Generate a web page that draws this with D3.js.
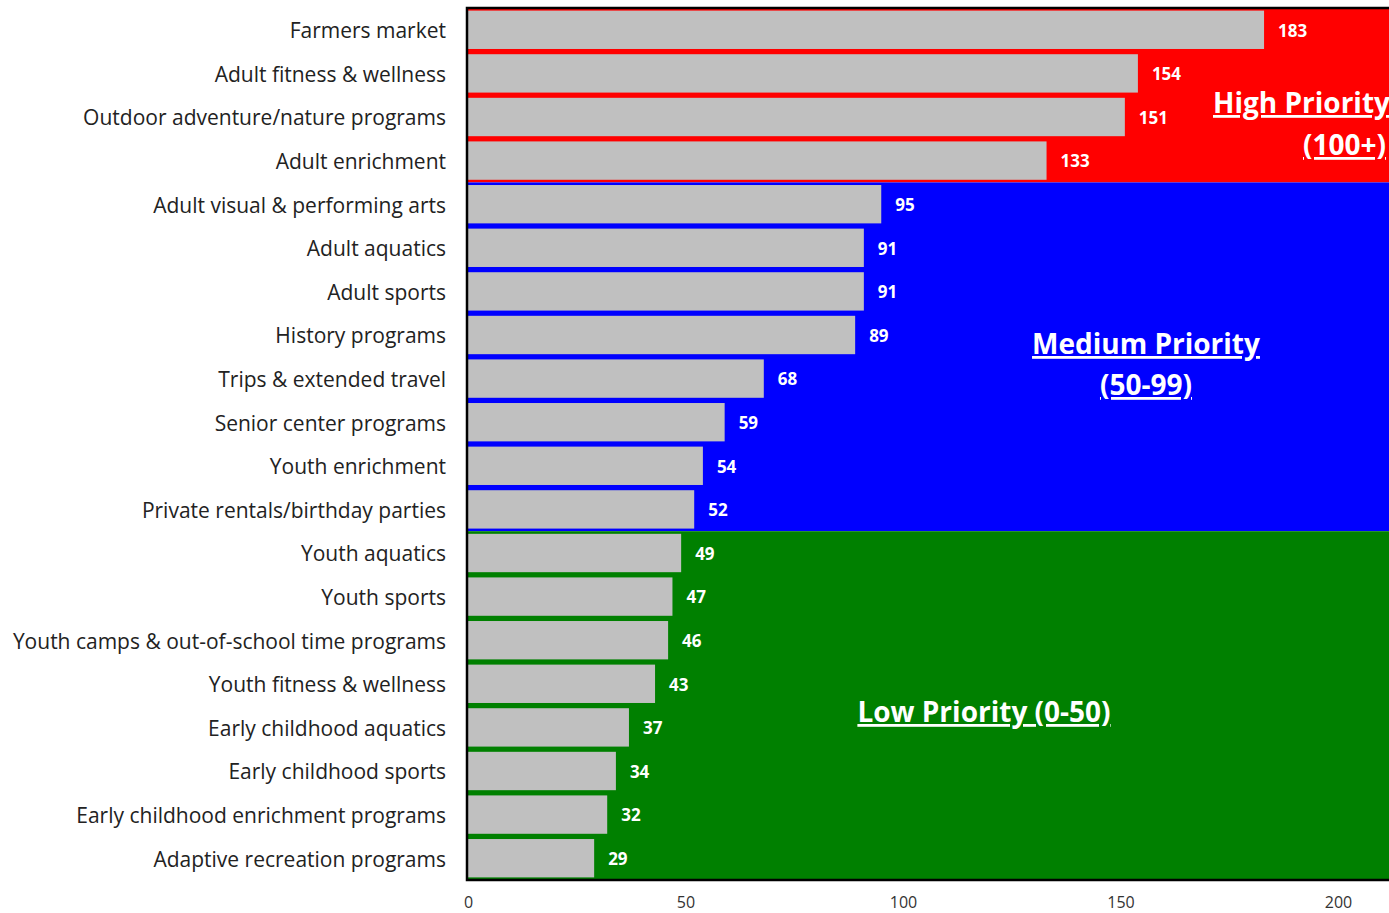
<!DOCTYPE html>
<html><head><meta charset="utf-8">
<script src="https://cdn.jsdelivr.net/npm/d3@7"></script>
<style>body{margin:0;background:#fff;overflow:hidden}svg{display:block}</style>
</head><body>
<script>
const categories = ["Farmers market","Adult fitness & wellness","Outdoor adventure/nature programs","Adult enrichment","Adult visual & performing arts","Adult aquatics","Adult sports","History programs","Trips & extended travel","Senior center programs","Youth enrichment","Private rentals/birthday parties","Youth aquatics","Youth sports","Youth camps & out-of-school time programs","Youth fitness & wellness","Early childhood aquatics","Early childhood sports","Early childhood enrichment programs","Adaptive recreation programs"];
const values = [183,154,151,133,95,91,91,89,68,59,54,52,49,47,46,43,37,34,32,29];
const xTicks = [0,50,100,150,200];
const zones = [
  {name:"High", first:0, last:3, color:"#ff0000"},
  {name:"Medium", first:4, last:11, color:"#0000ff"},
  {name:"Low", first:12, last:19, color:"#008000"}
];
const zoneLabels = [
  {lines:["High Priority","(100+)"], x:[1213,1303], y:[113,155], anchor:"start"},
  {lines:["Medium Priority","(50-99)"], x:[1146,1146], y:[354,395], anchor:"middle"},
  {lines:["Low Priority (0-50)"], x:[984], y:[722], anchor:"middle"}
];

const W=1389,H=913;
const svg=d3.select("body").append("svg").attr("width",W).attr("height",H);
const x=d3.scaleLinear().domain([0,215]).range([468,468+215*4.35]);
const y=d3.scaleBand().domain(categories).range([8,880]).paddingInner(0.12).paddingOuter(0.06);
const step=y.step(), gap=step*0.12;
const font="'Open Sans', sans-serif";

zones.forEach((z,i)=>{
  const y0 = i===0 ? 8 : y(categories[z.first]) - gap/2;
  const y1 = i===zones.length-1 ? 880 : y(categories[z.last]) + y.bandwidth() + gap/2;
  svg.append("rect").attr("x",x(0)).attr("y",y0).attr("width",x.range()[1]-x(0)).attr("height",y1-y0).attr("fill",z.color);
});

svg.selectAll("rect.bar").data(values).join("rect").attr("class","bar")
  .attr("x",x(0)).attr("y",(d,i)=>y(categories[i])).attr("width",d=>x(d)-x(0)).attr("height",y.bandwidth()).attr("fill","#c0c0c0");

svg.selectAll("text.val").data(values).join("text").attr("class","val")
  .attr("x",d=>x(d)+14).attr("y",(d,i)=>y(categories[i])+y.bandwidth()/2).attr("dy","0.4em")
  .attr("fill","#fff").attr("font-weight","bold").attr("font-size",17).attr("font-family",font).text(d=>d);

const yAxis=svg.append("g").attr("transform",`translate(${x(0)},0)`).call(d3.axisLeft(y).tickSize(0).tickPadding(22));
yAxis.select(".domain").remove();
yAxis.selectAll("text").attr("font-size",21).attr("dy","0.4em").attr("font-family",font).attr("fill","#222");

const xAxis=svg.append("g").attr("transform",`translate(0,880)`).call(d3.axisBottom(x).tickValues(xTicks).tickSize(0).tickPadding(17));
xAxis.select(".domain").remove();
xAxis.selectAll("text").attr("font-size",16).attr("font-family",font).attr("fill","#333");

svg.append("path").attr("d",`M${x.range()[1]},8H${x(0)-1}V880H${x.range()[1]}`).attr("fill","none").attr("stroke","#000").attr("stroke-width",2.5);

zoneLabels.forEach(z=>{
  z.lines.forEach((t,j)=>{
    svg.append("text").attr("x",z.x[j]).attr("y",z.y[j]).attr("text-anchor",z.anchor)
      .attr("fill","#fff").attr("font-weight","bold").attr("font-size",28).attr("font-family",font)
      .style("text-decoration","underline").text(t);
  });
});
</script>
</body></html>
